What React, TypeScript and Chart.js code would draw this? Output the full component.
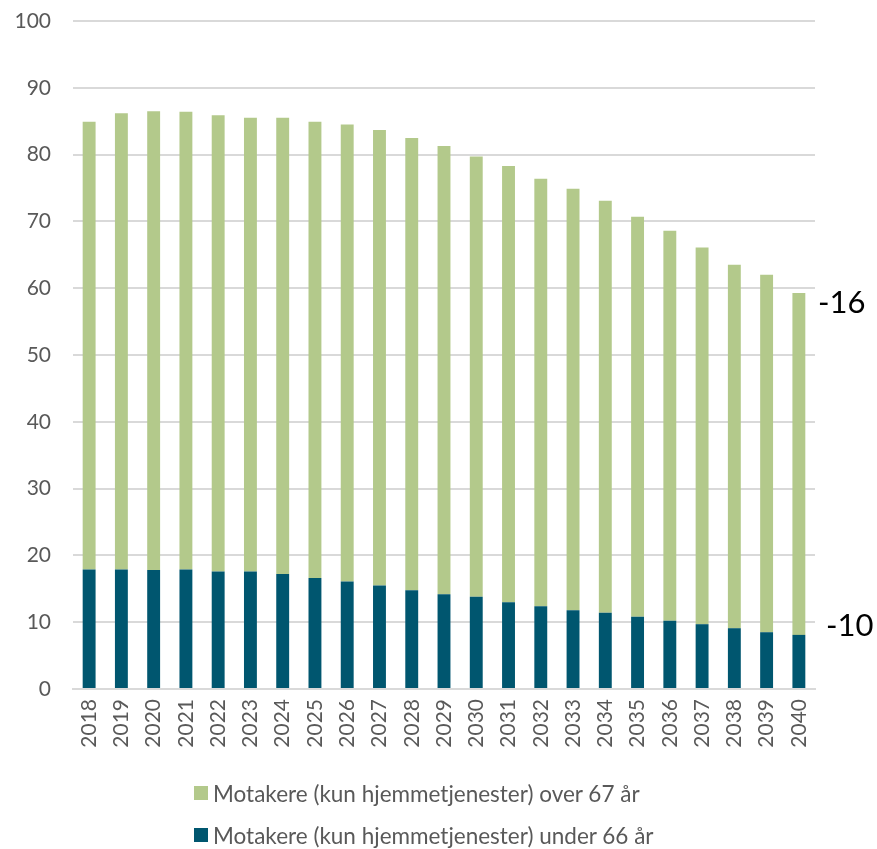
import React, { useEffect, useRef } from "react";
import { Chart, registerables } from "chart.js";

Chart.register(...registerables);

const years = [
  "2018", "2019", "2020", "2021", "2022", "2023", "2024", "2025", "2026", "2027", "2028", "2029",
  "2030", "2031", "2032", "2033", "2034", "2035", "2036", "2037", "2038", "2039", "2040",
];

// Receivers under 66 (dark, bottom)
const under66 = [
  17.9, 17.9, 17.8, 17.9, 17.6, 17.6, 17.2, 16.6, 16.1, 15.5, 14.8, 14.2,
  13.8, 13.0, 12.4, 11.8, 11.4, 10.8, 10.2, 9.7, 9.1, 8.5, 8.1,
];

const totals = [
  84.9, 86.2, 86.5, 86.4, 85.9, 85.5, 85.5, 84.9, 84.5, 83.7, 82.5, 81.3,
  79.7, 78.3, 76.4, 74.9, 73.1, 70.7, 68.6, 66.1, 63.5, 62.0, 59.3,
];

// Receivers over 67 (green, top)
const over67 = totals.map((t, i) => Math.round((t - under66[i]) * 10) / 10);

const yTicks = [0, 10, 20, 30, 40, 50, 60, 70, 80, 90, 100];

const seriesNames = [
  "Motakere (kun hjemmetjenester) over 67 år",
  "Motakere (kun hjemmetjenester) under 66 år",
];

const annotationLabels = ["-16", "-10"];
const annotationValues = [57.8, 9.4];

const GREEN = "#B3C98B";
const TEAL = "#00566F";
const FONT = "Lato, 'Liberation Sans', sans-serif";

export default function App() {
  const ref = useRef<HTMLCanvasElement | null>(null);

  useEffect(() => {
    document.body.style.margin = "0";
    const canvas = ref.current;
    if (!canvas) return;

    const annotationPlugin = {
      id: "sideAnnotations",
      afterDraw(chart: any) {
        const { ctx, chartArea, scales } = chart;
        const offsets = [3, 11];
        ctx.save();
        ctx.fillStyle = "#000000";
        ctx.font = `31px ${FONT}`;
        ctx.textAlign = "left";
        ctx.textBaseline = "middle";
        annotationLabels.forEach((lab, i) => {
          const y = scales.y.getPixelForValue(annotationValues[i]);
          ctx.fillText(lab, chartArea.right + offsets[i], y);
        });
        ctx.restore();
      },
    };

    const chart = new Chart(canvas, {
      type: "bar",
      data: {
        labels: years,
        datasets: [
          {
            label: seriesNames[1],
            data: under66,
            backgroundColor: TEAL,
            borderWidth: 0,
            barPercentage: 0.4,
            categoryPercentage: 1,
            order: 1,
          },
          {
            label: seriesNames[0],
            data: over67,
            backgroundColor: GREEN,
            borderWidth: 0,
            barPercentage: 0.4,
            categoryPercentage: 1,
            order: 2,
          },
        ],
      },
      options: {
        responsive: false,
        animation: false,
        maintainAspectRatio: false,
        layout: { padding: { top: 21, right: 62, left: 0, bottom: 85 } },
        plugins: {
          legend: { display: false },
          tooltip: { enabled: false },
        },
        scales: {
          x: {
            stacked: true,
            grid: { display: false, drawTicks: false },
            border: { display: true, color: "#D9D9D9", width: 2 },
            ticks: {
              color: "#595959",
              font: { family: FONT, size: 21 },
              minRotation: 90,
              maxRotation: 90,
              padding: 10,
              autoSkip: false,
            },
            afterFit(scale: any) {
              scale.height = 75;
              scale.paddingTop = 0;
              scale.paddingBottom = 0;
              scale.paddingLeft = 0;
              scale.paddingRight = 0;
            },
          },
          y: {
            stacked: true,
            min: 0,
            max: 100,
            afterBuildTicks(scale: any) {
              scale.ticks = yTicks.map((v) => ({ value: v }));
            },
            grid: { color: "#D9D9D9", lineWidth: 2, drawTicks: false },
            border: { display: false },
            ticks: {
              color: "#595959",
              font: { family: FONT, size: 21 },
              padding: 22,
            },
            afterFit(scale: any) {
              scale.width = 73;
              scale.paddingTop = 0;
              scale.paddingBottom = 0;
            },
          },
        },
      },
      plugins: [annotationPlugin],
    });

    return () => chart.destroy();
  }, []);

  const legendItems = [
    { name: seriesNames[0], color: GREEN },
    { name: seriesNames[1], color: TEAL },
  ];

  return (
    <div style={{ position: "relative", width: 877, height: 849, fontFamily: FONT }}>
      <canvas ref={ref} width={877} height={849} style={{ display: "block" }} />
      <div style={{ position: "absolute", left: 194, top: 780 }}>
        {legendItems.map((it, i) => (
          <div
            key={i}
            style={{
              display: "flex",
              alignItems: "center",
              height: 26,
              marginBottom: 16,
              color: "#595959",
              fontSize: 22.5,
              whiteSpace: "nowrap",
            }}
          >
            <span
              style={{
                display: "inline-block",
                width: 14,
                height: 14,
                background: it.color,
                marginRight: 5,
              }}
            />
            <span>{it.name}</span>
          </div>
        ))}
      </div>
    </div>
  );
}
